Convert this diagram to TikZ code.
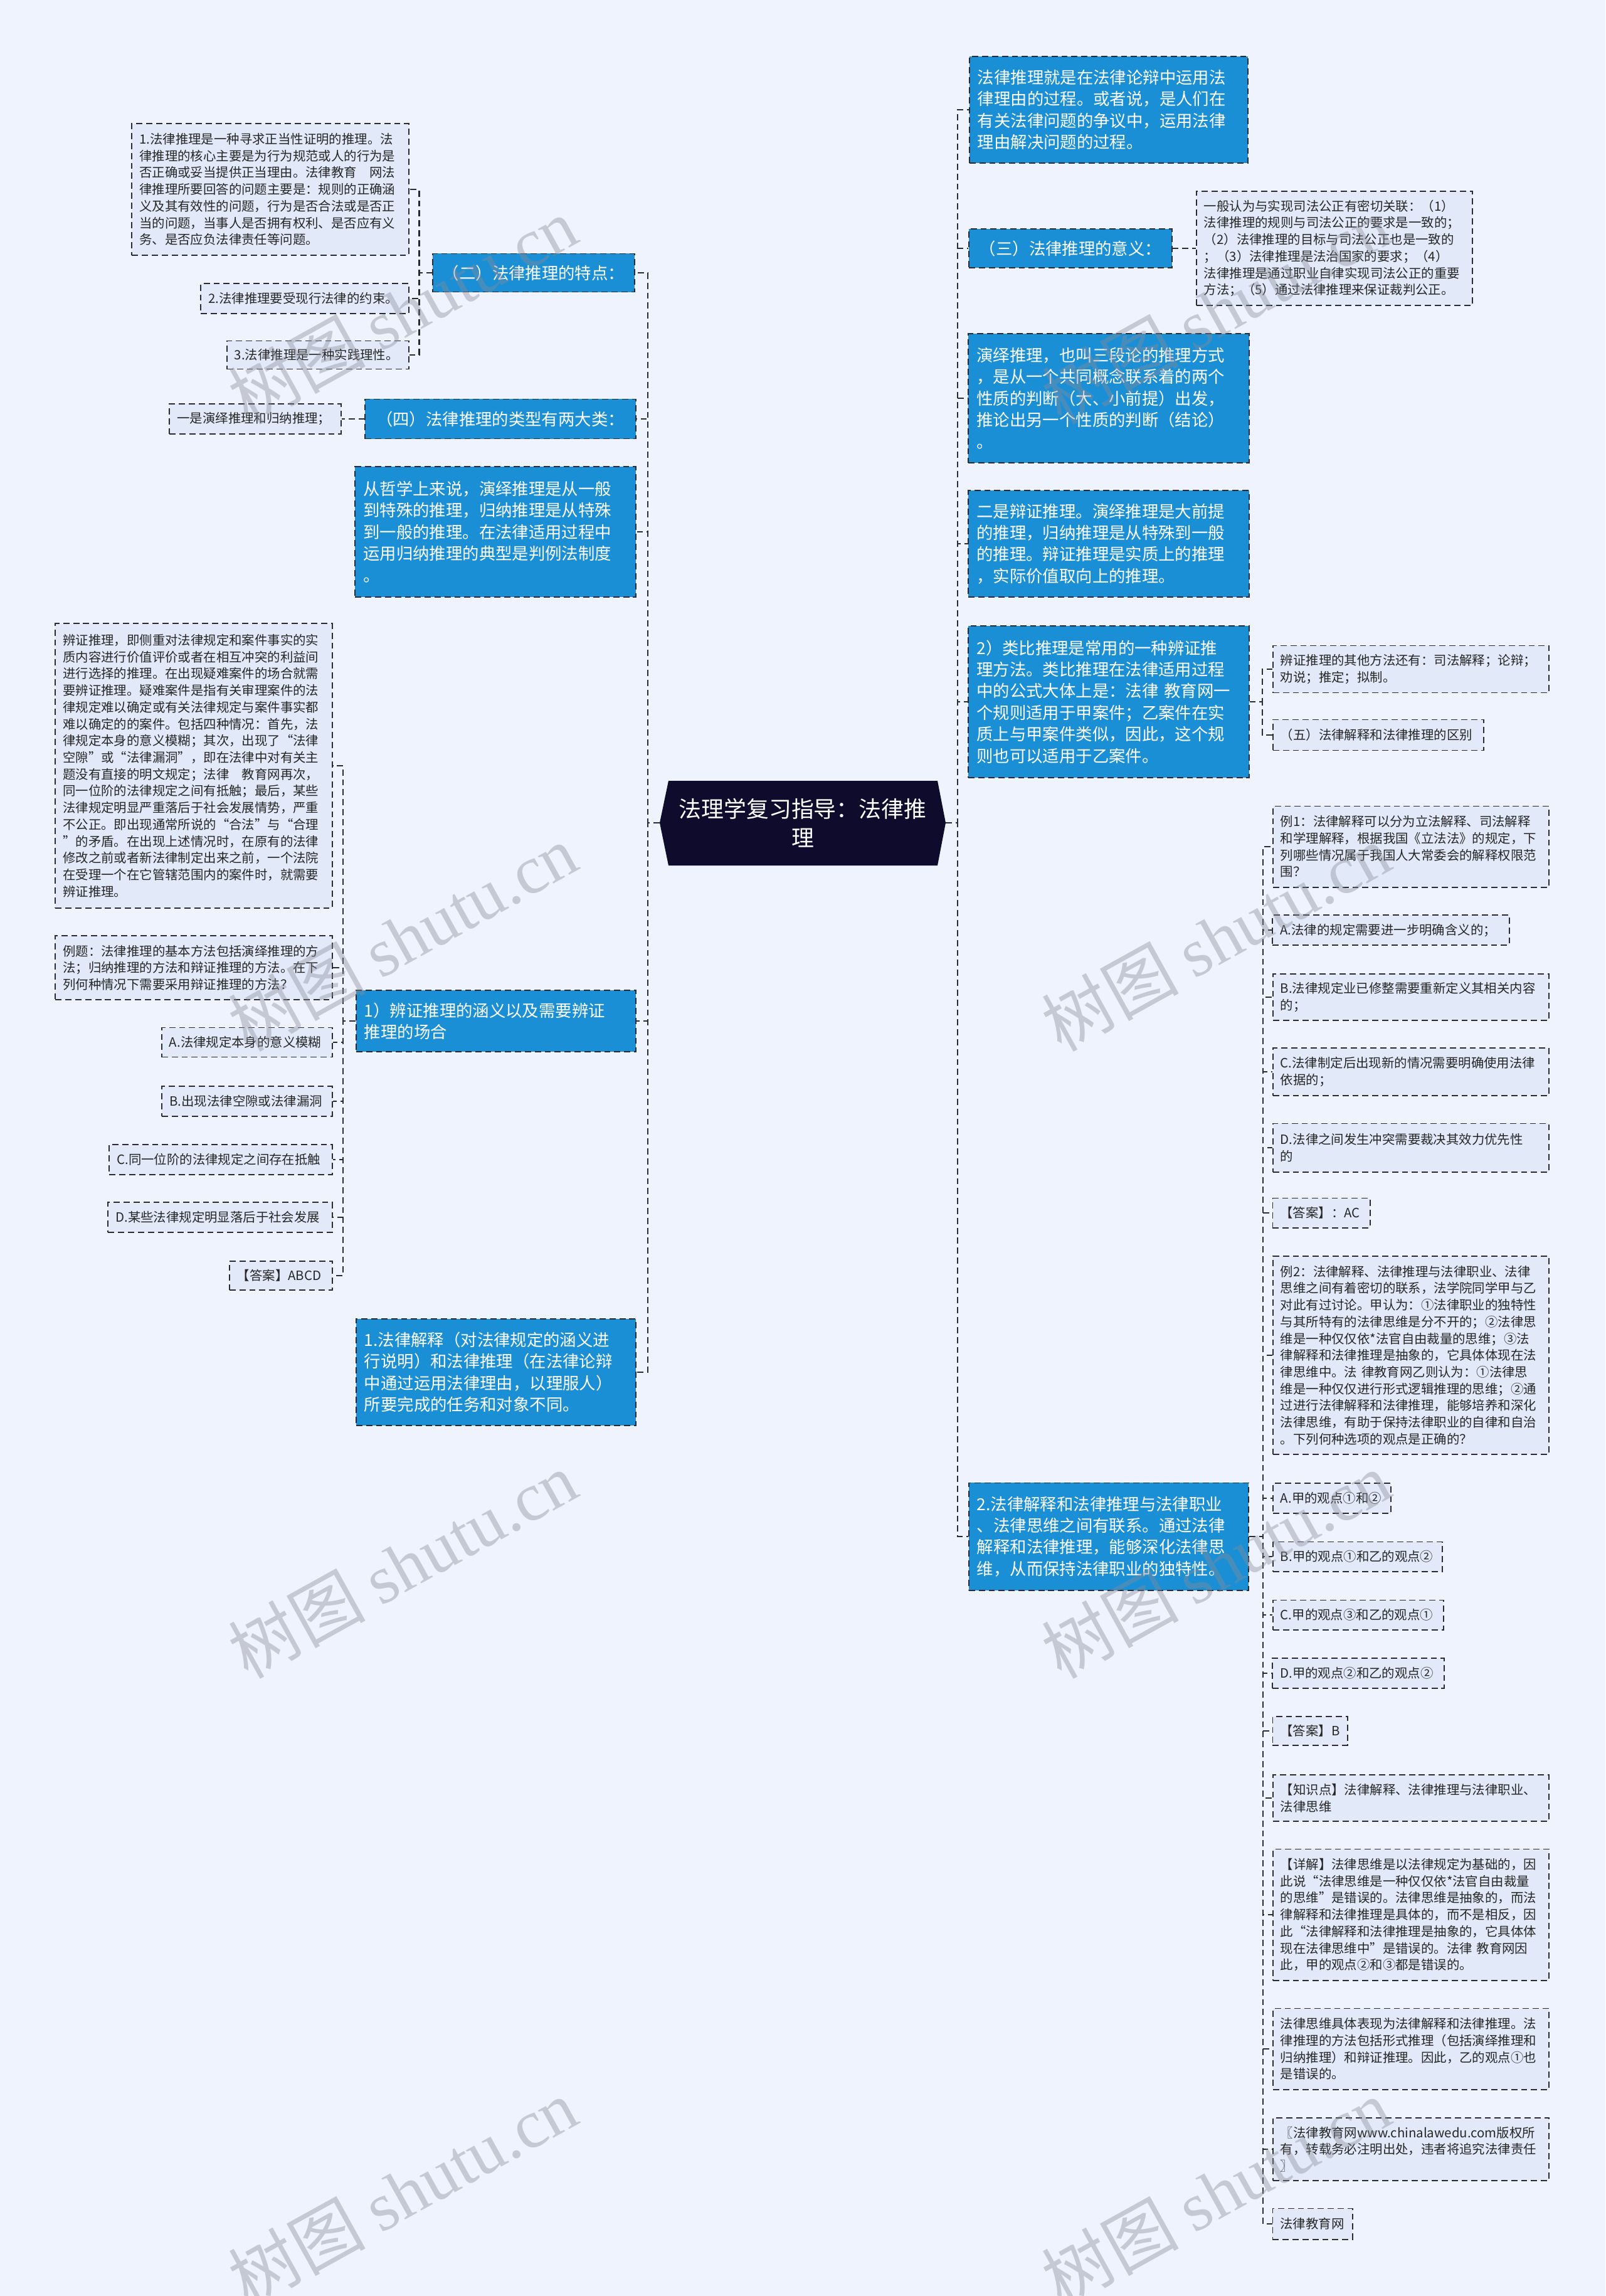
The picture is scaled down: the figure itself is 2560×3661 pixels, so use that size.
\documentclass[tikz,border=0pt]{standalone}
\usepackage{fontspec}
\setmainfont{Noto Sans CJK SC}
\newfontfamily\wmlatin{Liberation Serif}
\usetikzlibrary{positioning}
\definecolor{pagebg}{HTML}{EEF3FE}
\definecolor{leafbg}{HTML}{E2EAFA}
\definecolor{topicbg}{HTML}{1A8FD5}
\definecolor{rootbg}{HTML}{0E0B2D}
\definecolor{edge}{HTML}{2A2A33}
\definecolor{wmgray}{HTML}{8C8C96}

\begin{document}
\begin{tikzpicture}[x=0.01cm, y=-0.01cm,
    link/.style={draw=edge, line width=0.6pt, dash pattern=on 2.8pt off 1.7pt},
    leaf/.style={draw=edge, line width=0.55pt, dash pattern=on 2.8pt off 1.7pt, fill=leafbg,
                 text=black!85, font=\fontsize{5.8pt}{7.6pt}\selectfont, align=left,
                 inner xsep=0.12cm, inner ysep=0pt},
    topic/.style={draw=edge, line width=0.55pt, dash pattern=on 2.8pt off 1.7pt, fill=topicbg,
                  text=white, font=\fontsize{7.5pt}{9.8pt}\selectfont, align=left,
                  inner xsep=0.13cm, inner ysep=0pt},
    rootbox/.style={text=white, font=\fontsize{10.2pt}{13.1pt}\selectfont, align=center},
    wmark/.style={text=wmgray, opacity=0.4, rotate=29, font=\fontsize{31pt}{31pt}\selectfont}]
  \path[use as bounding box, clip] (0,0) rectangle (2560,3661);
  \fill[pagebg] (0,0) rectangle (2560,3661);
  \fill[rootbg] (1066,1245) -- (1495,1245) -- (1508,1312) -- (1495,1380)
    -- (1066,1380) -- (1052,1312) -- cycle;
  \node[rootbox] (root) at (1280,1312) {法理学复习指导：法律推\\理};
  \coordinate (rootL) at (1052,1312);
  \coordinate (rootR) at (1508,1312);

  % left side
  \node[topic, align=center, text width=2.95cm, minimum height=0.61cm] (tedian) at (851,435) {（二）法律推理的特点：};
  \node[leaf, text width=4.17cm, minimum height=2.10cm] (tedian1) at (431,302) {1.法律推理是一种寻求正当性证明的推理。法\\律推理的核心主要是为行为规范或人的行为是\\否正确或妥当提供正当理由。法律教育　网法\\律推理所要回答的问题主要是：规则的正确涵\\义及其有效性的问题，行为是否合法或是否正\\当的问题，当事人是否拥有权利、是否应有义\\务、是否应负法律责任等问题。};
  \node[leaf, text width=3.07cm, minimum height=0.48cm] (tedian2) at (486,476) {2.法律推理要受现行法律的约束。};
  \node[leaf, text width=2.66cm, minimum height=0.45cm] (tedian3) at (507,566) {3.法律推理是一种实践理性。};
  \node[topic, align=center, text width=4.05cm, minimum height=0.63cm] (leixing) at (798,668) {（四）法律推理的类型有两大类：};
  \node[leaf, text width=2.49cm, minimum height=0.48cm] (leixing1) at (407,668) {一是演绎推理和归纳推理；};
  \node[topic, text width=4.21cm, minimum height=2.07cm] (zhexue) at (790,848) {从哲学上来说，演绎推理是从一般\\到特殊的推理，归纳推理是从特殊\\到一般的推理。在法律适用过程中\\运用归纳推理的典型是判例法制度\\。};
  \node[topic, text width=4.20cm, minimum height=0.98cm] (bianzheng) at (791,1628) {1）辨证推理的涵义以及需要辨证\\推理的场合};
  \node[leaf, text width=4.17cm, minimum height=4.53cm] (bz1) at (309,1221) {辨证推理，即侧重对法律规定和案件事实的实\\质内容进行价值评价或者在相互冲突的利益间\\进行选择的推理。在出现疑难案件的场合就需\\要辨证推理。疑难案件是指有关审理案件的法\\律规定难以确定或有关法律规定与案件事实都\\难以确定的的案件。包括四种情况：首先，法\\律规定本身的意义模糊；其次，出现了“法律\\空隙”或“法律漏洞”，即在法律中对有关主\\题没有直接的明文规定；法律　教育网再次，\\同一位阶的法律规定之间有抵触；最后，某些\\法律规定明显严重落后于社会发展情势，严重\\不公正。即出现通常所说的“合法”与“合理\\”的矛盾。在出现上述情况时，在原有的法律\\修改之前或者新法律制定出来之前，一个法院\\在受理一个在它管辖范围内的案件时，就需要\\辨证推理。};
  \node[leaf, text width=4.17cm, minimum height=1.02cm] (bz2) at (309,1543) {例题：法律推理的基本方法包括演绎推理的方\\法；归纳推理的方法和辩证推理的方法。在下\\列何种情况下需要采用辩证推理的方法？};
  \node[leaf, text width=2.48cm, minimum height=0.47cm] (bz3) at (394,1662) {A.法律规定本身的意义模糊};
  \node[leaf, text width=2.47cm, minimum height=0.48cm] (bz4) at (394,1756) {B.出现法律空隙或法律漏洞};
  \node[leaf, text width=3.31cm, minimum height=0.48cm] (bz5) at (352,1849) {C.同一位阶的法律规定之间存在抵触};
  \node[leaf, text width=3.33cm, minimum height=0.48cm] (bz6) at (351,1941) {D.某些法律规定明显落后于社会发展};
  \node[leaf, text width=1.40cm, minimum height=0.46cm] (bz7) at (448,2034) {【答案】ABCD};
  \node[topic, text width=4.20cm, minimum height=1.70cm] (jieshi) at (791,2188) {1.法律解释（对法律规定的涵义进\\行说明）和法律推理（在法律论辩\\中通过运用法律理由，以理服人）\\所要完成的任务和对象不同。};

  % right side
  \node[topic, text width=4.18cm, minimum height=1.70cm] (dingyi) at (1768,175) {法律推理就是在法律论辩中运用法\\律理由的过程。或者说，是人们在\\有关法律问题的争议中，运用法律\\理由解决问题的过程。};
  \node[topic, align=center, text width=2.97cm, minimum height=0.62cm] (yiyi) at (1707,396) {（三）法律推理的意义：};
  \node[leaf, text width=4.16cm, minimum height=1.82cm] (yiyi1) at (2128,396) {一般认为与实现司法公正有密切关联：（1）\\法律推理的规则与司法公正的要求是一致的；\\（2）法律推理的目标与司法公正也是一致的\\；（3）法律推理是法治国家的要求；（4）\\法律推理是通过职业自律实现司法公正的重要\\方法；（5）通过法律推理来保证裁判公正。};
  \node[topic, text width=4.21cm, minimum height=2.05cm] (yanyi) at (1768,635) {演绎推理，也叫三段论的推理方式\\，是从一个共同概念联系着的两个\\性质的判断（大、小前提）出发，\\推论出另一个性质的判断（结论）\\。};
  \node[topic, text width=4.21cm, minimum height=1.69cm] (erjie) at (1768,867) {二是辩证推理。演绎推理是大前提\\的推理，归纳推理是从特殊到一般\\的推理。辩证推理是实质上的推理\\，实际价值取向上的推理。};
  \node[topic, text width=4.21cm, minimum height=2.42cm] (leibi) at (1768,1119) {2）类比推理是常用的一种辨证推\\理方法。类比推理在法律适用过程\\中的公式大体上是：法律~教育网一\\个规则适用于甲案件；乙案件在实\\质上与甲案件类似，因此，这个规\\则也可以适用于乙案件。};
  \node[leaf, text width=4.16cm, minimum height=0.75cm] (leibi1) at (2250,1067) {辨证推理的其他方法还有：司法解释；论辩；\\劝说；推定；拟制。};
  \node[leaf, text width=3.12cm, minimum height=0.49cm] (leibi2) at (2198,1172) {（五）法律解释和法律推理的区别};
  \node[topic, text width=4.20cm, minimum height=1.71cm] (lianxi) at (1768,2450) {2.法律解释和法律推理与法律职业\\、法律思维之间有联系。通过法律\\解释和法律推理，能够深化法律思\\维，从而保持法律职业的独特性。};
  \node[leaf, text width=4.16cm, minimum height=1.29cm] (lx1) at (2250,1350) {例1：法律解释可以分为立法解释、司法解释\\和学理解释，根据我国《立法法》的规定，下\\列哪些情况属于我国人大常委会的解释权限范\\围？};
  \node[leaf, text width=3.53cm, minimum height=0.48cm] (lx2) at (2218,1483) {A.法律的规定需要进一步明确含义的；};
  \node[leaf, text width=4.16cm, minimum height=0.74cm] (lx3) at (2250,1590) {B.法律规定业已修整需要重新定义其相关内容\\的；};
  \node[leaf, text width=4.16cm, minimum height=0.76cm] (lx4) at (2250,1709) {C.法律制定后出现新的情况需要明确使用法律\\依据的；};
  \node[leaf, text width=4.16cm, minimum height=0.77cm] (lx5) at (2250,1830) {D.法律之间发生冲突需要裁决其效力优先性\\的};
  \node[leaf, text width=1.31cm, minimum height=0.47cm] (lx6) at (2107,1934) {【答案】：AC};
  \node[leaf, text width=4.16cm, minimum height=3.16cm] (lx7) at (2250,2161) {例2：法律解释、法律推理与法律职业、法律\\思维之间有着密切的联系，法学院同学甲与乙\\对此有过讨论。甲认为：①法律职业的独特性\\与其所特有的法律思维是分不开的；②法律思\\维是一种仅仅依*法官自由裁量的思维；③法\\律解释和法律推理是抽象的，它具体体现在法\\律思维中。法~律教育网乙则认为：①法律思\\维是一种仅仅进行形式逻辑推理的思维；②通\\过进行法律解释和法律推理，能够培养和深化\\法律思维，有助于保持法律职业的自律和自治\\。下列何种选项的观点是正确的？};
  \node[leaf, text width=1.64cm, minimum height=0.48cm] (lx8) at (2124,2389) {A.甲的观点①和②};
  \node[leaf, text width=2.46cm, minimum height=0.47cm] (lx9) at (2165,2482) {B.甲的观点①和乙的观点②};
  \node[leaf, text width=2.48cm, minimum height=0.47cm] (lx10) at (2166,2575) {C.甲的观点③和乙的观点①};
  \node[leaf, text width=2.49cm, minimum height=0.48cm] (lx11) at (2166,2668) {D.甲的观点②和乙的观点②};
  \node[leaf, text width=0.95cm, minimum height=0.46cm] (lx12) at (2089,2760) {【答案】B};
  \node[leaf, text width=4.16cm, minimum height=0.74cm] (lx13) at (2250,2867) {【知识点】法律解释、法律推理与法律职业、\\法律思维};
  \node[leaf, text width=4.16cm, minimum height=2.09cm] (lx14) at (2250,3053) {【详解】法律思维是以法律规定为基础的，因\\此说“法律思维是一种仅仅依*法官自由裁量\\的思维”是错误的。法律思维是抽象的，而法\\律解释和法律推理是具体的，而不是相反，因\\此“法律解释和法律推理是抽象的，它具体体\\现在法律思维中”是错误的。法律~教育网因\\此，甲的观点②和③都是错误的。};
  \node[leaf, text width=4.16cm, minimum height=1.29cm] (lx15) at (2250,3267) {法律思维具体表现为法律解释和法律推理。法\\律推理的方法包括形式推理（包括演绎推理和\\归纳推理）和辩证推理。因此，乙的观点①也\\是错误的。};
  \node[leaf, text width=4.16cm, minimum height=1.00cm] (lx16) at (2250,3427) {〖法律教育网www.chinalawedu.com版权所\\有，转载务必注明出处，违者将追究法律责任\\〗};
  \node[leaf, text width=1.03cm, minimum height=0.49cm] (lx17) at (2093,3546) {法律教育网};

  % connectors
  \foreach \n in {tedian,leixing,zhexue,bianzheng,jieshi}
    \draw[link] (rootL) -- ++(-19,0) |- (\n.east);
  \foreach \n in {tedian1,tedian2,tedian3}
    \draw[link] (tedian.west) -- ++(-21,0) |- (\n.east);
  \draw[link] (leixing.west) -- (leixing1.east);
  \foreach \n in {bz1,bz2,bz3,bz4,bz5,bz6,bz7}
    \draw[link] (bianzheng.west) -- ++(-20,0) |- (\n.east);
  \foreach \n in {dingyi,yiyi,yanyi,erjie,leibi,lianxi}
    \draw[link] (rootR) -- ++(19,0) |- (\n.west);
  \draw[link] (yiyi.east) -- (yiyi1.west);
  \foreach \n in {leibi1,leibi2}
    \draw[link] (leibi.east) -- ++(20,0) |- (\n.west);
  \foreach \n in {lx1,lx2,lx3,lx4,lx5,lx6,lx7,lx8,lx9,lx10,lx11,lx12,lx13,lx14,lx15,lx16,lx17}
    \draw[link] (lianxi.east) -- ++(22,0) |- (\n.west);

  % watermark
  \foreach \wx in {642,1939}
    \foreach \wy in {495,1495,2495,3495}
      \node[wmark] at (\wx,\wy) {树图 {\wmlatin shutu.cn}};
\end{tikzpicture}
\end{document}
